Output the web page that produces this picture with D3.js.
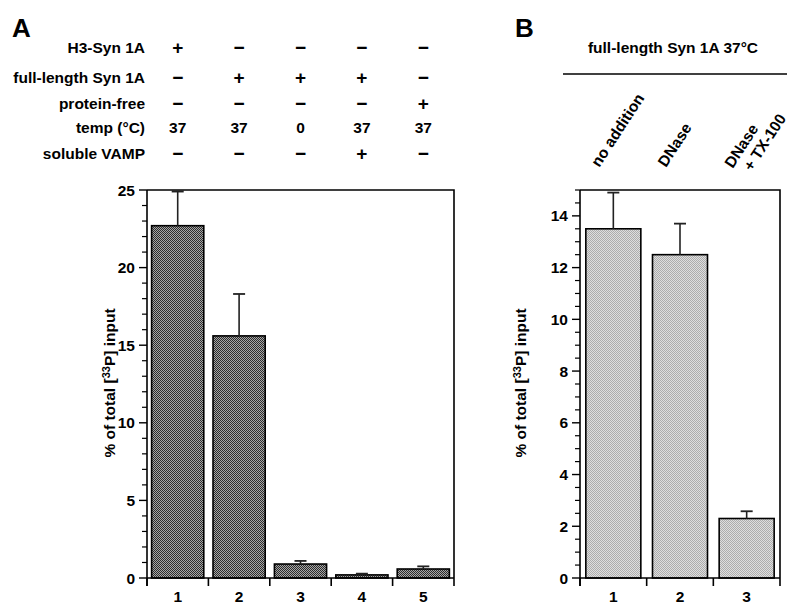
<!DOCTYPE html>
<html><head><meta charset="utf-8">
<script src="https://cdn.jsdelivr.net/npm/d3@7"></script>
<style>
body{margin:0;background:#fff;}
text{font-family:"Liberation Sans",Arial,Helvetica,sans-serif;font-weight:bold;fill:#000;}
</style></head>
<body>
<svg id="c" width="800" height="613"></svg>
<script>
// ---- data ----
const catsA = ["1","2","3","4","5"];
const valuesA = [22.7, 15.6, 0.9, 0.2, 0.58];
const errTopA = [24.9, 18.3, 1.1, 0.28, 0.75];
const rowLabelsA = ["H3-Syn 1A","full-length Syn 1A","protein-free","temp (°C)","soluble VAMP"];
const conditionsA = [
  ["+","−","−","−","−"],
  ["−","+","+","+","−"],
  ["−","−","−","−","+"],
  ["37","37","0","37","37"],
  ["−","−","−","+","−"]
];
const yTicksA = [0,5,10,15,20,25];

const catsB = ["1","2","3"];
const valuesB = [13.5, 12.5, 2.3];
const errTopB = [14.9, 13.7, 2.58];
const labelsB = [["no addition"],["DNase"],["DNase","+ TX-100"]];
const yTicksB = [0,2,4,6,8,10,12,14];
const titleB = "full-length Syn 1A 37°C";

const FS = 15.5;
const svg = d3.select("#c");
const defs = svg.append("defs");
function pat(id,a,b){
  const p = defs.append("pattern").attr("id",id).attr("width",2).attr("height",2).attr("patternUnits","userSpaceOnUse");
  p.append("rect").attr("width",2).attr("height",2).attr("fill",b);
  p.append("rect").attr("width",1).attr("height",1).attr("fill",a);
  p.append("rect").attr("x",1).attr("y",1).attr("width",1).attr("height",1).attr("fill",a);
}
pat("pA","#2c2c2c","#a6a6a6");
pat("pB","#acacac","#dedede");

function panel(o){
  const x = d3.scaleBand().domain(o.cats).range([o.x0,o.x1]).paddingInner(o.pi).paddingOuter(o.pi/2);
  const y = d3.scaleLinear().domain([0,o.ymax]).range([578,190]);
  const g = svg.append("g");
  g.selectAll("rect.bar").data(o.vals).join("rect")
    .attr("x",(d,i)=>x(o.cats[i])).attr("width",x.bandwidth())
    .attr("y",d=>y(d)).attr("height",d=>y(0)-y(d))
    .attr("fill",`url(#${o.pat})`).attr("stroke","#000").attr("stroke-width",1.6);
  o.errs.forEach((e,i)=>{
    const cx = x(o.cats[i])+x.bandwidth()/2;
    g.append("line").attr("x1",cx).attr("x2",cx).attr("y1",y(o.vals[i])).attr("y2",y(e)).attr("stroke","#222").attr("stroke-width",1.6);
    g.append("line").attr("x1",cx-6).attr("x2",cx+6).attr("y1",y(e)).attr("y2",y(e)).attr("stroke","#222").attr("stroke-width",1.8);
  });
  g.append("path").attr("d",`M${o.x0},${y(o.ymax)}H${o.x1}V${y(0)}`).attr("fill","none").attr("stroke","#000").attr("stroke-width",1.6);
  const minor = d3.range(0,o.ymax+1e-9,o.minorStep).filter(v=>!o.yTicks.includes(v));
  const ya = g.append("g").attr("transform",`translate(${o.x0},0)`);
  ya.append("line").attr("y1",y(0)+8).attr("y2",y(o.ymax)).attr("stroke","#000").attr("stroke-width",1.6);
  ya.selectAll("line.mj").data(o.yTicks).join("line").attr("x1",-8).attr("x2",0).attr("y1",d=>y(d)).attr("y2",d=>y(d)).attr("stroke","#000").attr("stroke-width",1.4);
  ya.selectAll("line.mn").data(minor).join("line").attr("x1",-5).attr("x2",0).attr("y1",d=>y(d)).attr("y2",d=>y(d)).attr("stroke","#000").attr("stroke-width",1.2);
  ya.selectAll("text").data(o.yTicks).join("text").attr("x",-12).attr("y",d=>y(d)).attr("dy","0.36em").attr("text-anchor","end").attr("font-size",FS).text(d=>d);
  const xa = g.append("g");
  xa.append("line").attr("x1",o.x0).attr("x2",o.x1).attr("y1",y(0)).attr("y2",y(0)).attr("stroke","#000").attr("stroke-width",1.6);
  const edges = [o.x0].concat(o.cats.map((c,i)=> i===o.cats.length-1 ? o.x1 : x(c)+x.bandwidth()+x.step()*x.paddingInner()/2));
  xa.selectAll("line.t").data(edges).join("line").attr("x1",d=>d).attr("x2",d=>d).attr("y1",y(0)).attr("y2",y(0)+8).attr("stroke","#000").attr("stroke-width",1.6);
  xa.selectAll("text").data(o.cats).join("text").attr("x",d=>x(d)+x.bandwidth()/2).attr("y",602).attr("text-anchor","middle").attr("font-size",FS).text(d=>d);
  const t = g.append("text").attr("transform",`translate(${o.titleX},383) rotate(-90)`).attr("text-anchor","middle").attr("font-size",FS);
  t.append("tspan").text("% of total [");
  t.append("tspan").attr("font-size",11).attr("dy",-5).text("33");
  t.append("tspan").attr("dy",5).text("P] input");
  return {x,y};
}

// Panel A
const A = panel({cats:catsA,vals:valuesA,errs:errTopA,x0:147,x1:454,pi:0.15,ymax:25,yTicks:yTicksA,minorStep:1,pat:"pA",titleX:115});
svg.append("text").attr("x",12).attr("y",37).attr("font-size",26).text("A");
const rowY = [53,83,109,133,159];
rowLabelsA.forEach((l,r)=>{
  svg.append("text").attr("x",145).attr("y",rowY[r]).attr("text-anchor","end").attr("font-size",FS).text(l);
  conditionsA[r].forEach((s,i)=>{
    const isNum = /\d/.test(s);
    svg.append("text").attr("x",A.x(catsA[i])+A.x.bandwidth()/2).attr("y",rowY[r]+(isNum?0:1)).attr("text-anchor","middle")
      .attr("font-size",isNum?FS:19).text(s);
  });
});

// Panel B
const B = panel({cats:catsB,vals:valuesB,errs:errTopB,x0:580,x1:780,pi:0.175,ymax:15,yTicks:yTicksB,minorStep:0.5,pat:"pB",titleX:526});
svg.append("text").attr("x",515).attr("y",37).attr("font-size",26).text("B");
svg.append("text").attr("x",673).attr("y",53).attr("text-anchor","middle").attr("font-size",FS).text(titleB);
svg.append("line").attr("x1",563).attr("x2",787).attr("y1",74).attr("y2",74).attr("stroke","#000").attr("stroke-width",1.4);
labelsB.forEach((lines,i)=>{
  const cx = B.x(catsB[i])+B.x.bandwidth()/2;
  lines.forEach((l,j)=>{
    const sx = lines.length===1 ? cx-14 : (j===0 ? cx-14 : cx+5);
    const sy = lines.length===1 ? 168 : (j===0 ? 169 : 172);
    svg.append("text").attr("transform",`translate(${sx},${sy}) rotate(-57)`).attr("font-size",FS).text(l);
  });
});
</script>
</body></html>
